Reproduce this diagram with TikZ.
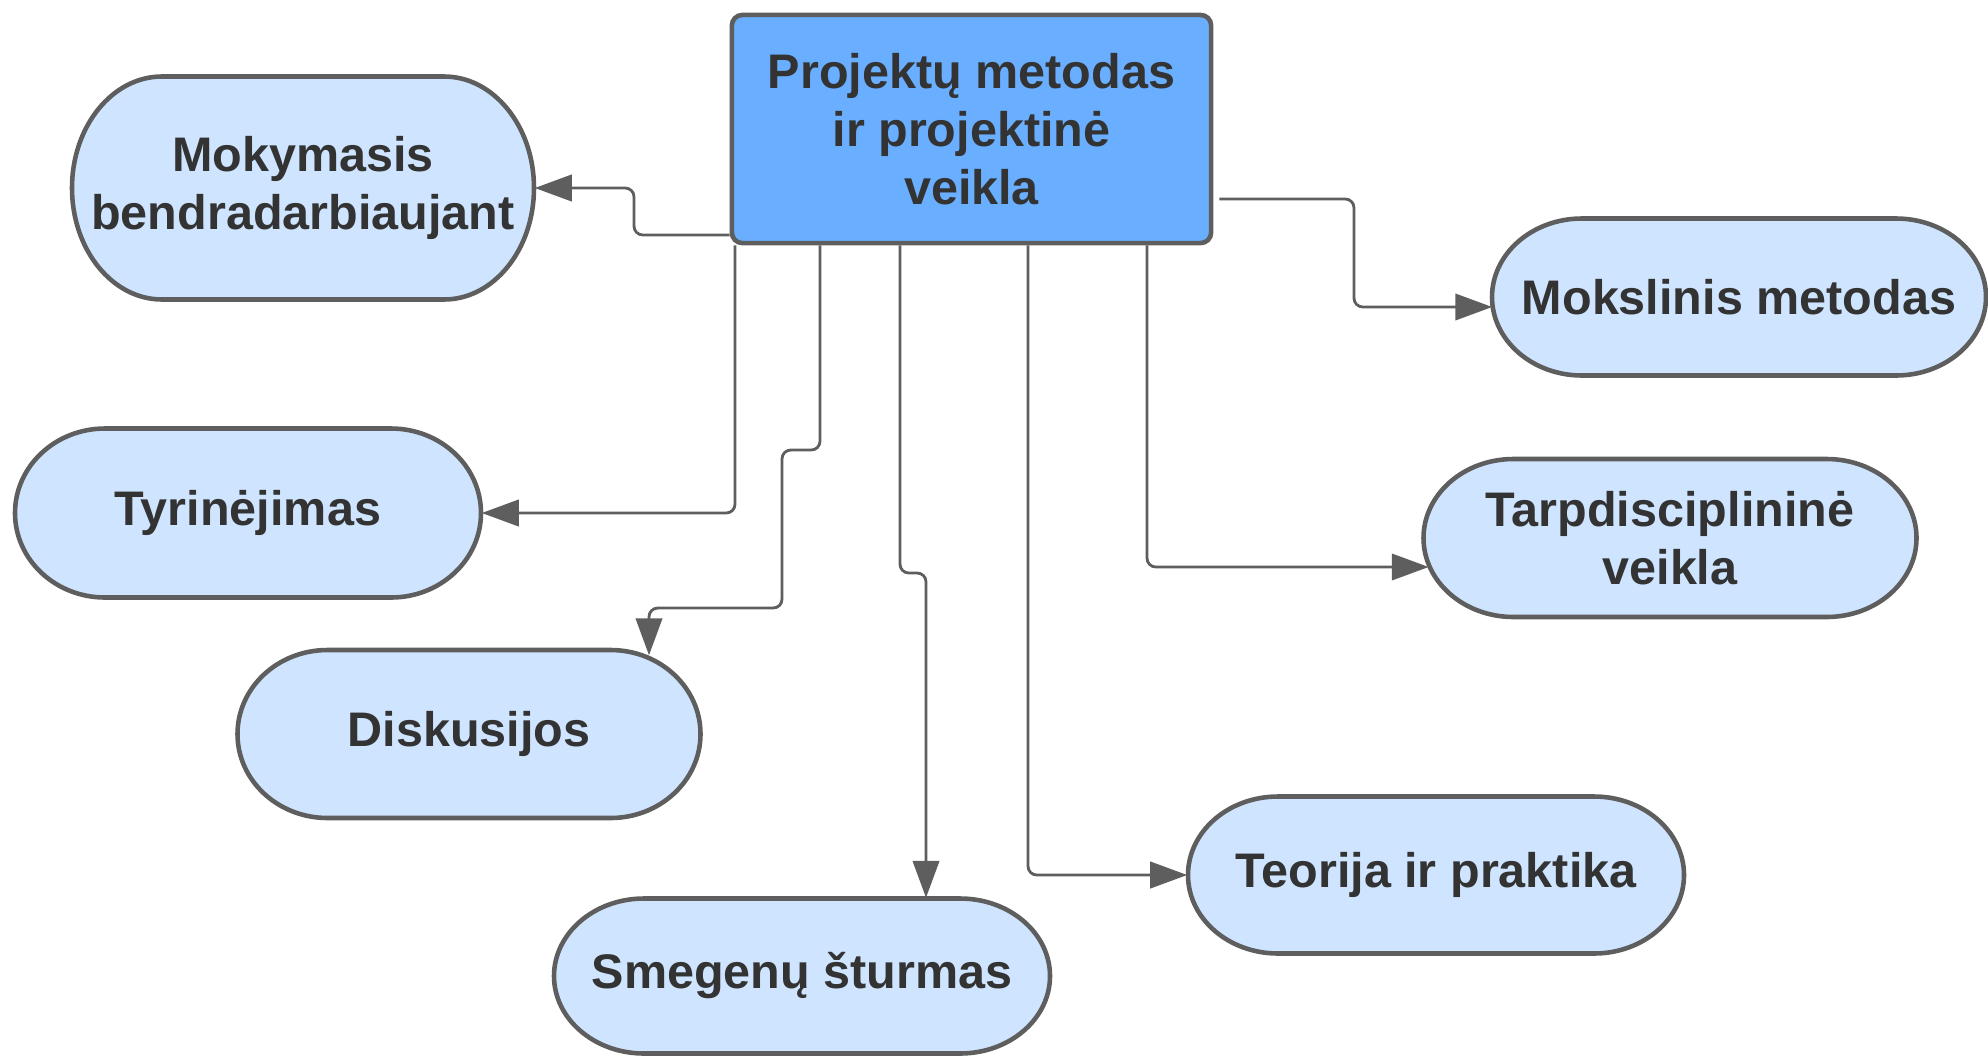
\documentclass[tikz,border=0pt]{standalone}
\usepackage{fontspec}
\setmainfont{Liberation Sans}
\usetikzlibrary{arrows.meta,calc}
\definecolor{topblue}{HTML}{6AAFFF}
\definecolor{lightblue}{HTML}{CFE4FF}
\definecolor{edgegray}{HTML}{5E5E5E}
\definecolor{textgray}{HTML}{333333}

\begin{document}
\begin{tikzpicture}[x=0.01cm, y=0.01cm,
  every node/.style={font=\fontsize{13.8}{16.5}\selectfont\bfseries, text=textgray, align=center, inner sep=0pt},
  topbox/.style={rectangle, rounded corners=3pt, fill=topblue, draw=edgegray, line width=1.3pt},
  stadium/.style={fill=lightblue, draw=edgegray, line width=1.3pt},
  conn/.style={-{Triangle[length=10.5pt,width=7.5pt]}, edgegray, line width=0.8pt, rounded corners=2.5pt}]
  \useasboundingbox (0,0) rectangle (1988,1056);
  \node[topbox, minimum width=4.79cm, minimum height=2.28cm] (box) at (971.5,927) {Projektų metodas\\ir projektinė\\veikla};
  \foreach \nm/\cx/\cy/\w/\h/\txt in {
    moky/303/868/462/223/{Mokymasis\\bendradarbiaujant},
    tyr/248/543/466/169/Tyrinėjimas,
    disk/469/322/463/168/Diskusijos,
    smeg/802/80/496/155/Smegenų šturmas,
    teo/1436/181/496/157/Teorija ir praktika,
    tarp/1670/518/493/158/{Tarpdisciplininė\\veikla},
    mok/1739/759/494/157/Mokslinis metodas}
  {
    \draw[stadium] (\cx-\w/2+90,\cy+\h/2) -- (\cx+\w/2-90,\cy+\h/2)
      arc[start angle=90, end angle=-90, x radius=90, y radius=\h/2]
      -- (\cx-\w/2+90,\cy-\h/2)
      arc[start angle=270, end angle=90, x radius=90, y radius=\h/2] -- cycle;
    \node[minimum width=\w/100*1cm, minimum height=\h/100*1cm] (\nm) at (\cx,\cy) {\txt};
  }
  \draw[conn] (box.west |- 0,821) -- (634,821) |- (moky.east);
  \draw[conn] (735,0 |- box.south) |- (tyr.east);
  \draw[conn] (820,0 |- box.south) |- (782,606) |- (649,448) -- ($(disk.north)+(180,-6)$);
  \draw[conn] (900,0 |- box.south) |- (926,483) -- (926,0 |- smeg.north);
  \draw[conn] (1028,0 |- box.south) |- (teo.west);
  \draw[conn] (1147,0 |- box.south) |- ($(tarp.west)+(6,-29)$);
  \draw[conn] ($(box.east |- 0,857)+(6,0)$) -| (1354,749) -- ($(mok.west)+(1,-10)$);
\end{tikzpicture}
\end{document}
